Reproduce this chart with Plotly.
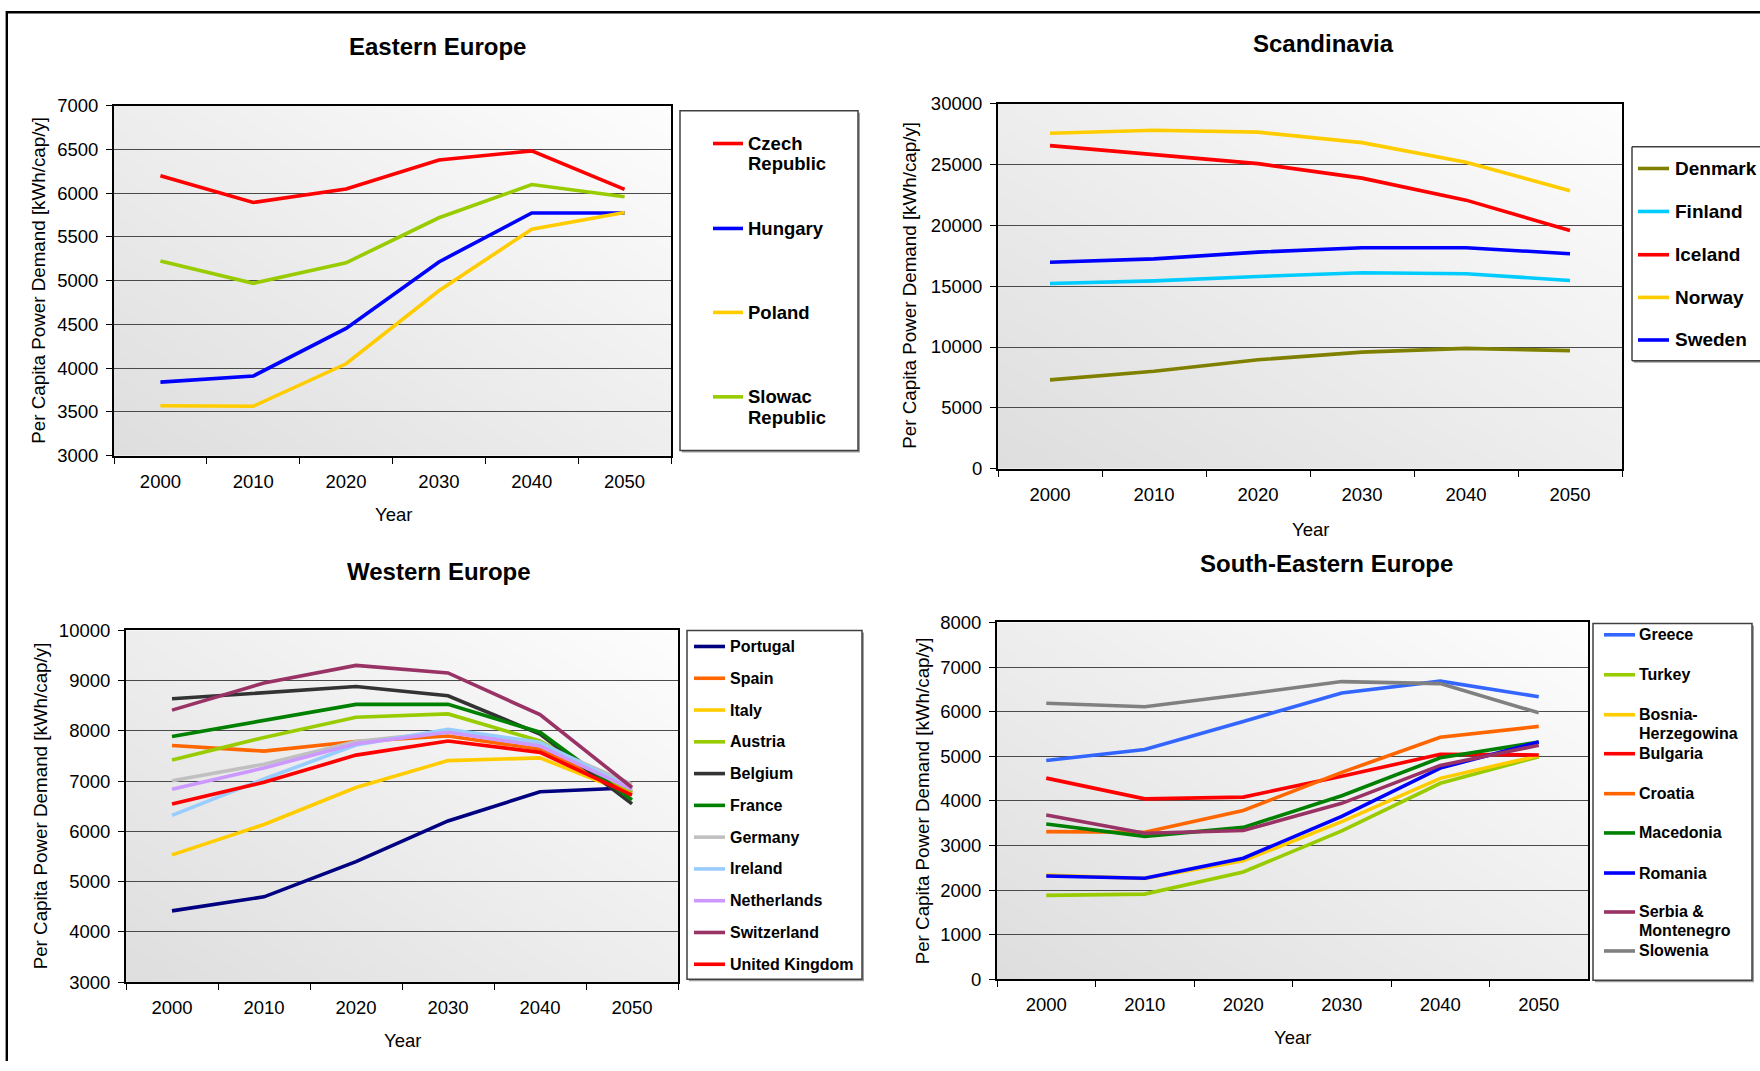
import base64
import struct
import zlib

import plotly.graph_objects as go

# ---------------------------------------------------------------- data
YEARS = ["2000", "2010", "2020", "2030", "2040", "2050"]

# Eastern Europe, per capita power demand [kWh/cap/y]
czech_republic = [6200, 5895, 6050, 6380, 6485, 6045]
hungary = [3840, 3910, 4455, 5215, 5775, 5775]
poland = [3570, 3565, 4050, 4885, 5590, 5780]
slovak_republic = [5225, 4970, 5205, 5720, 6100, 5960]

# Scandinavia
denmark = [7300, 8000, 8950, 9580, 9890, 9700]
finland = [15220, 15440, 15800, 16110, 16030, 15470]
iceland = [26560, 25830, 25080, 23890, 22080, 19580]
norway = [27580, 27830, 27670, 26810, 25190, 22860]
sweden = [16970, 17250, 17800, 18170, 18170, 17670]

# Western Europe
portugal = [4420, 4700, 5400, 6210, 6790, 6870]
spain = [7710, 7600, 7790, 7900, 7640, 6770]
italy = [5535, 6140, 6875, 7410, 7465, 6740]
austria = [7425, 7870, 8275, 8340, 7800, 6800]
belgium = [8640, 8755, 8885, 8700, 7940, 6550]
france = [7890, 8205, 8530, 8530, 7975, 6630]
germany = [7010, 7340, 7790, 7985, 7735, 6940]
ireland = [6320, 7045, 7720, 8035, 7775, 6855]
netherlands = [6840, 7265, 7745, 7975, 7700, 6840]
switzerland = [8415, 8955, 9305, 9155, 8325, 6875]
united_kingdom = [6545, 6980, 7520, 7800, 7575, 6725]

# South-Eastern Europe
greece = [4905, 5150, 5780, 6420, 6685, 6335]
turkey = [1880, 1910, 2405, 3325, 4395, 4990]
bosnia_herzegowina = [2335, 2260, 2655, 3535, 4505, 5015]
bulgaria = [4510, 4045, 4085, 4550, 5045, 5030]
croatia = [3310, 3295, 3785, 4640, 5425, 5670]
macedonia = [3480, 3205, 3405, 4115, 4965, 5320]
romania = [2315, 2265, 2715, 3650, 4735, 5320]
serbia_montenegro = [3685, 3275, 3335, 3945, 4795, 5245]
slowenia = [6190, 6110, 6385, 6675, 6630, 5975]

east_labels = [["Czech", "Republic"], ["Hungary"], ["Poland"], ["Slowac", "Republic"]]
east_series = [czech_republic, hungary, poland, slovak_republic]

scan_labels = [["Denmark"], ["Finland"], ["Iceland"], ["Norway"], ["Sweden"]]
scan_series = [denmark, finland, iceland, norway, sweden]

west_labels = [["Portugal"], ["Spain"], ["Italy"], ["Austria"], ["Belgium"], ["France"],
               ["Germany"], ["Ireland"], ["Netherlands"], ["Switzerland"], ["United Kingdom"]]
west_series = [portugal, spain, italy, austria, belgium, france, germany, ireland,
               netherlands, switzerland, united_kingdom]

se_labels = [["Greece"], ["Turkey"], ["Bosnia-", "Herzegowina"], ["Bulgaria"], ["Croatia"],
             ["Macedonia"], ["Romania"], ["Serbia &", "Montenegro"], ["Slowenia"]]
se_series = [greece, turkey, bosnia_herzegowina, bulgaria, croatia, macedonia, romania,
             serbia_montenegro, slowenia]

# ---------------------------------------------------------------- styling
east_colors = ["#FF0000", "#0000FF", "#FFCC00", "#99CC00"]
scan_colors = ["#808000", "#00CCFF", "#FF0000", "#FFCC00", "#0000FF"]
west_colors = ["#000080", "#FF6600", "#FFCC00", "#99CC00", "#333333", "#008000",
               "#C0C0C0", "#99CCFF", "#CC99FF", "#993366", "#FF0000"]
se_colors = ["#3366FF", "#99CC00", "#FFCC00", "#FF0000", "#FF6600", "#008000",
             "#0000FF", "#993366", "#808080"]

W, H = 1760, 1071
FONT = "Liberation Sans, Arial, Helvetica, sans-serif"
Y_TITLE = "Per Capita Power Demand [kWh/cap/y]"

# Layout positions below are design-grid pixels. Horizontally the grid equals the
# page; vertically the page spans grid rows GRID_TOP .. GRID_BOTTOM.
GRID_TOP, GRID_BOTTOM = 10.1, 1060.8

panels = [
    dict(title="Eastern Europe", labels=east_labels, series=east_series, colors=east_colors,
         box=(114, 105, 671, 455), yrange=(3000, 7000), dtick=500,
         title_xy=(437, 46), year_xy=(393, 514), ytitle_xy=(39, 280),
         legend_box=(680, 110, 858, 450), sample=(713, 743), text_x=746,
         entries=[142.7, 227.7, 311.7, 396.2], line_gap=20.5, legend_size=18.5),
    dict(title="Scandinavia", labels=scan_labels, series=scan_series, colors=scan_colors,
         box=(998, 103, 1622, 468), yrange=(0, 30000), dtick=5000,
         title_xy=(1323, 43), year_xy=(1310, 529), ytitle_xy=(910, 285),
         legend_box=(1632, 146, None, 360), sample=(1638, 1669), text_x=1673,
         entries=[167.7, 210.7, 254.0, 296.7, 339.3], line_gap=20.5, legend_size=19),
    dict(title="Western Europe", labels=west_labels, series=west_series, colors=west_colors,
         box=(126, 630, 678, 982), yrange=(3000, 10000), dtick=1000,
         title_xy=(439, 571), year_xy=(402, 1040), ytitle_xy=(40, 806),
         legend_box=(687, 630, 862, 979), sample=(694, 725), text_x=728,
         entries=[646 + 31.8 * i for i in range(11)], line_gap=19, legend_size=16),
    dict(title="South-Eastern Europe", labels=se_labels, series=se_series, colors=se_colors,
         box=(997, 622, 1588, 979), yrange=(0, 8000), dtick=1000,
         title_xy=(1326, 563), year_xy=(1292, 1037), ytitle_xy=(922, 800),
         legend_box=(1593, 623, 1752, 980), sample=(1604, 1635), text_x=1637,
         entries=[634.3, 674.3, 714.3, 753.3, 793.3, 832.6, 872.7, 911.7, 950.7],
         line_gap=18.5, legend_size=16),
]


def fx(x):
    return x / W


def fy(y):
    return (GRID_BOTTOM - y) / (GRID_BOTTOM - GRID_TOP)


def gradient_png(w=128, h=128, c0=(222, 222, 222), c1=(253, 253, 253)):
    """Diagonal grey-to-white fill: darkest at bottom-left, lightest at top-right."""
    raw = bytearray()
    for j in range(h):
        raw.append(0)
        for i in range(w):
            u = (i / (w - 1) + (1 - j / (h - 1))) / 2
            raw.extend(int(round(a + (b - a) * u)) for a, b in zip(c0, c1))

    def chunk(tag, data):
        body = tag + data
        return struct.pack(">I", len(data)) + body + struct.pack(">I", zlib.crc32(body) & 0xFFFFFFFF)

    png = b"\x89PNG\r\n\x1a\n"
    png += chunk(b"IHDR", struct.pack(">IIBBBBB", w, h, 8, 2, 0, 0, 0))
    png += chunk(b"IDAT", zlib.compress(bytes(raw), 9))
    png += chunk(b"IEND", b"")
    return "data:image/png;base64," + base64.b64encode(png).decode()


BG = gradient_png()

fig = go.Figure()
layout = dict(
    width=W, height=H,
    margin=dict(l=0, r=0, t=0, b=0),
    paper_bgcolor="white",
    plot_bgcolor="rgba(0,0,0,0)",
    font=dict(family=FONT, color="black"),
    showlegend=False,
)
shapes, annotations, images = [], [], []


def paper_line(xa, ya, xb, yb, color, width):
    return dict(type="line", xref="paper", yref="paper", x0=fx(xa), x1=fx(xb),
                y0=fy(ya), y1=fy(yb), line=dict(color=color, width=width))


for k, p in enumerate(panels, start=1):
    sfx = "" if k == 1 else str(k)
    xa, ya = "x" + sfx, "y" + sfx
    x0, y0, x1, y1 = p["box"]

    for lab, vals, col in zip(p["labels"], p["series"], p["colors"]):
        fig.add_trace(go.Scatter(
            x=YEARS, y=vals, name=" ".join(lab).replace("- ", "-"), mode="lines",
            line=dict(color=col, width=3.6), xaxis=xa, yaxis=ya,
            hovertemplate="%{x}: %{y}<extra>%{fullData.name}</extra>",
        ))

    layout["xaxis" + sfx] = dict(
        domain=[fx(x0), fx(x1)], anchor=ya, type="category", range=[-0.5, 5.5],
        tickson="boundaries", ticks="outside", ticklen=6, tickwidth=1.2, tickcolor="black",
        showline=True, linecolor="black", linewidth=2, mirror=True, showgrid=False,
        tickfont=dict(family=FONT, size=18.5, color="black"), ticklabelstandoff=8,
        fixedrange=True,
    )
    layout["yaxis" + sfx] = dict(
        domain=[fy(y1), fy(y0)], anchor=xa, range=list(p["yrange"]), dtick=p["dtick"],
        tick0=0, tickformat="d", ticks="outside", ticklen=6, tickwidth=1.2,
        tickcolor="black", showline=True, linecolor="black", linewidth=2, mirror=True,
        showgrid=True, gridcolor="#4a4a4a", gridwidth=1.1, zeroline=False,
        tickfont=dict(family=FONT, size=18.5, color="black"), ticklabelstandoff=4,
        fixedrange=True,
    )

    # plot-area gradient fill
    images.append(dict(source=BG, xref="paper", yref="paper", x=fx(x0), y=fy(y0),
                       sizex=fx(x1) - fx(x0), sizey=fy(y0) - fy(y1), sizing="stretch",
                       xanchor="left", yanchor="top", layer="below"))

    # chart title and axis titles
    tx, ty = p["title_xy"]
    annotations.append(dict(text="<b>" + p["title"] + "</b>", x=fx(tx), y=fy(ty),
                            xref="paper", yref="paper", showarrow=False,
                            xanchor="center", yanchor="middle",
                            font=dict(family=FONT, size=24, color="black")))
    yx, yy = p["year_xy"]
    annotations.append(dict(text="Year", x=fx(yx), y=fy(yy), xref="paper", yref="paper",
                            showarrow=False, xanchor="center", yanchor="middle",
                            font=dict(family=FONT, size=18.5, color="black")))
    vx, vy = p["ytitle_xy"]
    annotations.append(dict(text=Y_TITLE, x=fx(vx), y=fy(vy), xref="paper", yref="paper",
                            showarrow=False, textangle=-90, xanchor="center",
                            yanchor="middle",
                            font=dict(family=FONT, size=18.8, color="black")))

    # legend frame with a light drop shadow (open on the right when it runs off the page)
    lx0, ly0, lx1, ly1 = p["legend_box"]
    if lx1 is not None:
        shapes.append(dict(type="rect", xref="paper", yref="paper",
                           x0=fx(lx0 + 2), x1=fx(lx1 + 2), y0=fy(ly1 + 2), y1=fy(ly0 + 2),
                           line=dict(width=0), fillcolor="#a0a0a0", layer="below"))
        shapes.append(dict(type="rect", xref="paper", yref="paper",
                           x0=fx(lx0), x1=fx(lx1), y0=fy(ly1), y1=fy(ly0),
                           line=dict(color="#404040", width=1.5), fillcolor="white",
                           layer="below"))
    else:
        shapes.append(dict(type="rect", xref="paper", yref="paper",
                           x0=fx(lx0 + 2), x1=1.0, y0=fy(ly1 + 2), y1=fy(ly0 + 2),
                           line=dict(width=0), fillcolor="#a0a0a0", layer="below"))
        shapes.append(dict(type="rect", xref="paper", yref="paper",
                           x0=fx(lx0), x1=1.0, y0=fy(ly1), y1=fy(ly0),
                           line=dict(width=0), fillcolor="white", layer="below"))
        shapes.append(paper_line(lx0, ly0, W, ly0, "#404040", 1.5))
        shapes.append(paper_line(lx0, ly0, lx0, ly1, "#404040", 1.5))
        shapes.append(paper_line(lx0, ly1, W, ly1, "#404040", 1.5))
    sx0, sx1 = p["sample"]
    for lab, col, cy in zip(p["labels"], p["colors"], p["entries"]):
        shapes.append(paper_line(sx0, cy, sx1, cy, col, 3.6))
        for i, part in enumerate(lab):
            annotations.append(dict(text="<b>" + part + "</b>", x=fx(p["text_x"]),
                                    y=fy(cy + i * p["line_gap"]), xref="paper",
                                    yref="paper", showarrow=False, xanchor="left",
                                    yanchor="middle",
                                    font=dict(family=FONT, size=p["legend_size"],
                                              color="black")))

# page frame (top and left edges)
shapes.append(dict(type="line", xref="paper", yref="paper", x0=fx(6), x1=1.0,
                   y0=1 - 1.3 / H, y1=1 - 1.3 / H, line=dict(color="black", width=2.4)))
shapes.append(dict(type="line", xref="paper", yref="paper", x0=fx(6.8), x1=fx(6.8),
                   y0=0.0, y1=1 - 0.1 / H, line=dict(color="black", width=2.4)))

layout["shapes"] = shapes
layout["annotations"] = annotations
layout["images"] = images
fig.update_layout(**layout)

fig.write_html("out.html", include_plotlyjs=True, full_html=True,
               config={"displayModeBar": False})
